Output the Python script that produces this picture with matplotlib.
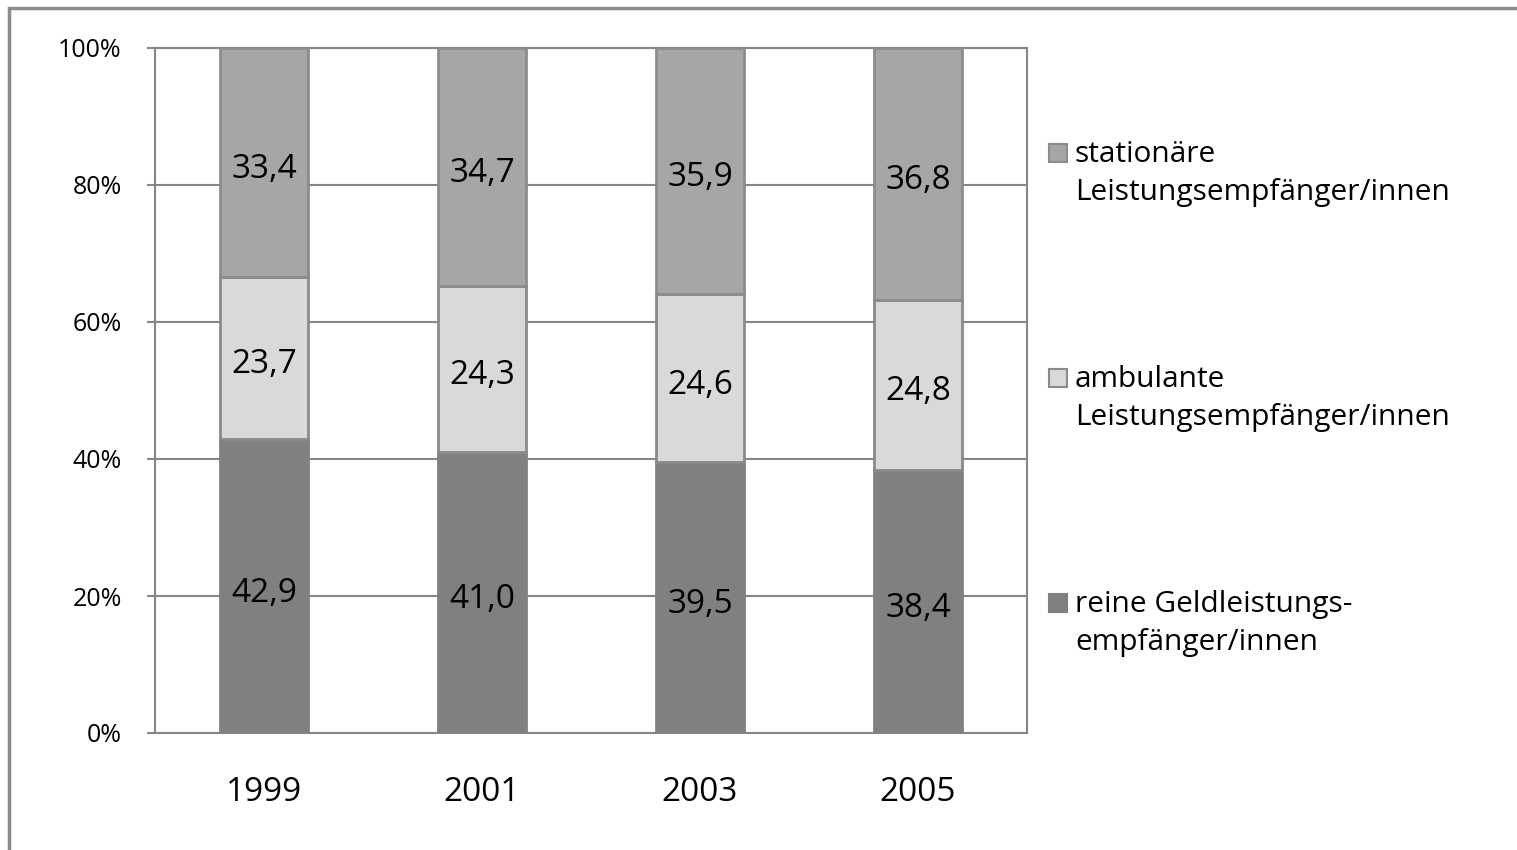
import matplotlib
matplotlib.use("Agg")
import matplotlib.pyplot as plt
from matplotlib.patches import Rectangle
import numpy as np

years = ["1999", "2001", "2003", "2005"]
series_names = ["reine Geldleistungs-\nempfänger/innen",
                "ambulante\nLeistungsempfänger/innen",
                "stationäre\nLeistungsempfänger/innen"]
geld = [42.9, 41.0, 39.5, 38.4]
ambulant = [23.7, 24.3, 24.6, 24.8]
stationaer = [33.4, 34.7, 35.9, 36.8]
ytick_labels = ["0%", "20%", "40%", "60%", "80%", "100%"]

fills = ["#808080", "#d9d9d9", "#a6a6a6"]
edges = ["#808080", "#8a8a8a", "#8c8c8c"]

plt.rcParams['font.family'] = ['Open Sans', 'DejaVu Sans']

fig = plt.figure(figsize=(15.17, 8.5), dpi=100)
ax = fig.add_axes([155/1517, 1 - 733/850, (1027-155)/1517, (733-48)/850])

x = np.arange(len(years))
values = [geld, ambulant, stationaer]
bottom = np.zeros(len(years))
for vals, fc, ec, name in zip(values, fills, edges, series_names):
    vals = np.array(vals)
    ax.bar(x, vals, width=0.40, bottom=bottom, color=fc, edgecolor=ec,
           linewidth=2, zorder=3, label=name)
    for xi, b, v in zip(x, bottom, vals):
        ax.annotate(f"{v:.1f}".replace(".", ","), (xi, b + v / 2),
                    xytext=(0, -5), textcoords="offset points",
                    ha="center", va="center", fontsize=24, color="black", zorder=4)
    bottom += vals

ax.set_xlim(-0.5, 3.5)
ax.set_ylim(0, 100)
ax.set_yticks(np.arange(0, 101, 20))
ax.set_yticklabels(ytick_labels, fontsize=18)
ax.set_xticks(x)
ax.set_xticklabels(years, fontsize=24)
ax.tick_params(axis="x", length=0, pad=31)
ax.tick_params(axis="y", length=6, width=1.5, color="#868686", pad=18)
ax.grid(axis="y", color="#868686", linewidth=1.5, zorder=0)
for s in ax.spines.values():
    s.set_color("#868686")
    s.set_linewidth(1.5)

# legend (manual, handle aligned with first text line)
leg_y = [153, 378, 603]
for (name, fc, ec), yy in zip(list(zip(series_names, fills, edges))[::-1], leg_y):
    fig.patches.append(Rectangle((1049/1517, 1 - (yy + 9)/850), 18/1517, 18/850,
                                 transform=fig.transFigure, facecolor=fc,
                                 edgecolor=ec, linewidth=1.5))
    fig.text(1075/1517, 1 - (yy - 13)/850, name, ha="left", va="top",
             fontsize=21.5, linespacing=1.42)

# outer frame
fig.patches.append(Rectangle((9/1517, -0.1), 1.2, 1 - 8/850 + 0.1,
                             transform=fig.transFigure, facecolor="none",
                             edgecolor="#8c8c8c", linewidth=2.5, zorder=0))

fig.savefig("out.png", dpi=100)
